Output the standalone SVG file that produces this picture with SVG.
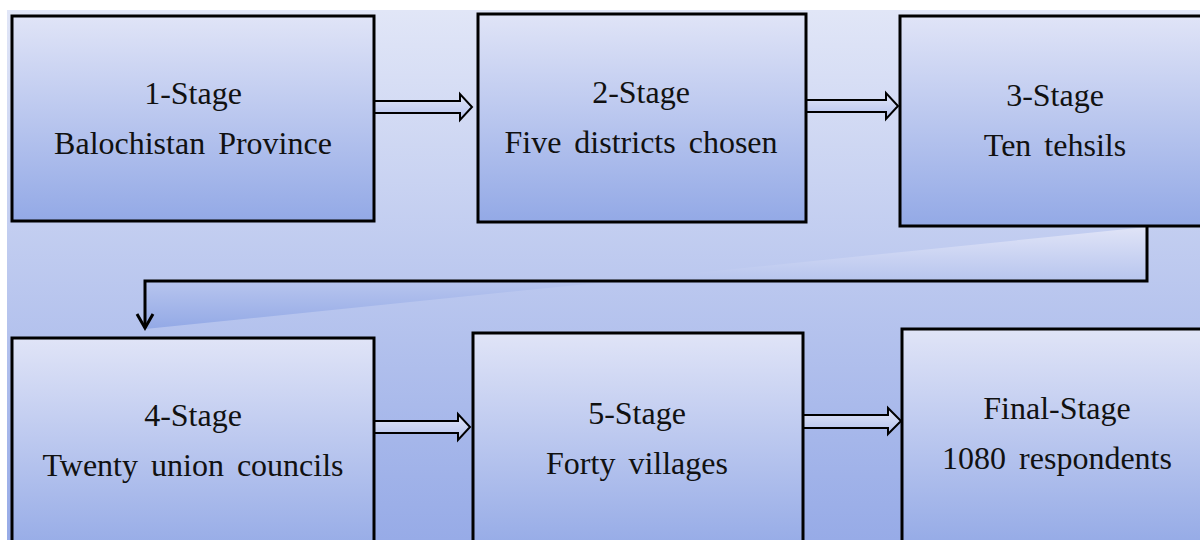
<svg xmlns="http://www.w3.org/2000/svg" width="1200" height="540" viewBox="0 0 1200 540">
<defs>
<linearGradient id="bg" x1="0" y1="0" x2="0" y2="1">
<stop offset="0" stop-color="#e1e6f7"/>
<stop offset="1" stop-color="#97abe7"/>
</linearGradient>
<linearGradient id="box" x1="0" y1="0" x2="0" y2="1">
<stop offset="0" stop-color="#e0e4f7"/>
<stop offset="1" stop-color="#93a9e6"/>
</linearGradient>
<linearGradient id="arr" x1="0" y1="0" x2="0" y2="1">
<stop offset="0" stop-color="#e3e7f8"/>
<stop offset="1" stop-color="#b4c2ee"/>
</linearGradient>
<style>
.node rect{fill:url(#box);stroke:#000;stroke-width:3}
.node text{font-family:"Liberation Serif","Times New Roman",serif;font-size:32px;fill:#111;text-anchor:middle;word-spacing:5px}
.blk{fill:url(#arr);stroke:#000;stroke-width:2;stroke-linejoin:miter}
.elbow{fill:url(#box);stroke:none}
.line{fill:none;stroke:#000;stroke-width:3}
</style>
</defs>
<rect x="0" y="0" width="1200" height="540" fill="#ffffff"/>
<rect x="7" y="10" width="1193" height="530" fill="url(#bg)"/>

<g id="connectors">
<path class="elbow" d="M1147,227 L1147,281 L145,281 L145,329 Z"/>
<path class="line" d="M1147,226 L1147,281 L145,281 L145,328"/>
<path class="line" d="M137,314 L145,328 L153,314"/>
<path class="blk" d="M372,101 L460,101 L460,94 L472,107 L460,120 L460,113 L372,113 Z"/>
<path class="blk" d="M805,100 L886,100 L886,93 L898,106 L886,119 L886,112 L805,112 Z"/>
<path class="blk" d="M373,421 L458,421 L458,414 L470,427 L458,440 L458,433 L373,433 Z"/>
<path class="blk" d="M802,415 L888,415 L888,408 L901,421 L888,434 L888,428 L802,428 Z"/>
</g>

<g id="stage1" class="node">
<rect x="12" y="16" width="362" height="205"/>
<text x="193" y="104">1-Stage</text>
<text x="193" y="154">Balochistan Province</text>
</g>
<g id="stage2" class="node">
<rect x="478" y="14" width="328" height="208"/>
<text x="641" y="103">2-Stage</text>
<text x="641" y="153">Five districts chosen</text>
</g>
<g id="stage3" class="node">
<rect x="900" y="16" width="320" height="210"/>
<text x="1055" y="106">3-Stage</text>
<text x="1055" y="156">Ten tehsils</text>
</g>
<g id="stage4" class="node">
<rect x="12" y="338" width="362" height="220"/>
<text x="193" y="426">4-Stage</text>
<text x="193" y="476">Twenty union councils</text>
</g>
<g id="stage5" class="node">
<rect x="473" y="333" width="330" height="222"/>
<text x="637" y="424">5-Stage</text>
<text x="637" y="474">Forty villages</text>
</g>
<g id="stage6" class="node">
<rect x="902" y="329" width="320" height="222"/>
<text x="1057" y="419">Final-Stage</text>
<text x="1057" y="469">1080 respondents</text>
</g>
</svg>
